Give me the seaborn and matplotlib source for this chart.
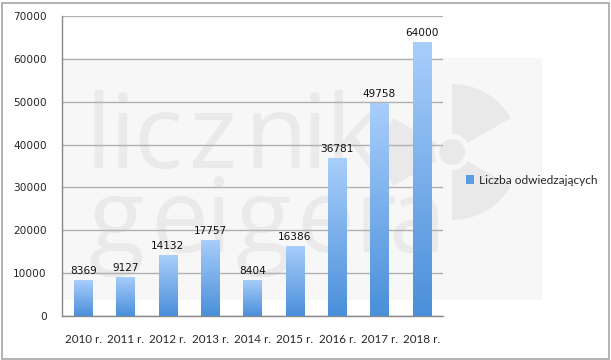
import numpy as np
import pandas as pd
import matplotlib
matplotlib.use("Agg")
import matplotlib.pyplot as plt
from matplotlib.patches import Rectangle, Wedge, Circle
import seaborn as sns

years = ["2010 r.", "2011 r.", "2012 r.", "2013 r.", "2014 r.",
         "2015 r.", "2016 r.", "2017 r.", "2018 r."]
visitors = [8369, 9127, 14132, 17757, 8404, 16386, 36781, 49758, 64000]
yticks = [0, 10000, 20000, 30000, 40000, 50000, 60000, 70000]
series_name = "Liczba odwiedzających"

df = pd.DataFrame({"rok": years, "wartosc": visitors})

sns.set_style("white")
plt.rcParams["font.family"] = ["DejaVu Sans"]

W, H = 611, 360
fig = plt.figure(figsize=(W / 100, H / 100), dpi=100)

# background watermark (light panel, trefoil, text) drawn in pixel coords
def px(x, y):
    return x / W, 1 - y / H

bg = Rectangle(px(63, 300), (542 - 63) / W, (300 - 58) / H,
               transform=fig.transFigure, facecolor="#f7f7f8",
               edgecolor="none", zorder=-2)
fig.patches.append(bg)

wm = fig.add_axes([0, 0, 1, 1], zorder=-1)
wm.set_xlim(0, W)
wm.set_ylim(H, 0)
wm.axis("off")
cx, cy = 452, 152
for a in [(30, 90), (150, 210), (270, 330)]:
    wm.add_patch(Wedge((cx, cy), 68, a[0], a[1], width=50,
                       facecolor="#e9e9ea", edgecolor="none"))
wm.add_patch(Circle((cx, cy), 13, facecolor="#e9e9ea", edgecolor="none"))

# watermark letters, spaced out like the original logo
wm_lines = [("licznik", [98, 123, 158, 213, 276, 315, 352], 168),
            ("geigera", [116, 179, 219, 263, 325, 375, 417], 252)]
for word, xs, base in wm_lines:
    for ch, x in zip(word, xs):
        wm.text(x, base, ch, fontsize=74, color="#eaeaea",
                family="Open Sans", ha="center", va="baseline")

# outer frame
fig.patches.append(Rectangle((1.5 / W, 1.5 / H), (W - 4) / W, (H - 4) / H,
                             transform=fig.transFigure, facecolor="none",
                             edgecolor="#a6a6a6", linewidth=1.2, zorder=5))

ax = fig.add_axes([62 / W, 1 - 316 / H, (443 - 62) / W, 300 / H], zorder=1)
ax.set_facecolor("none")

sns.barplot(data=df, x="rok", y="wartosc", ax=ax, width=0.43,
            color="#5b9bdf", zorder=3)

# vertical gradient inside each bar
grad = np.linspace(0, 1, 256).reshape(-1, 1)
cmap = matplotlib.colors.LinearSegmentedColormap.from_list(
    "bar", ["#4a8fda", "#a9cefb"])
for p in ax.patches:
    x0, y0 = p.get_x(), p.get_y()
    w, h = p.get_width(), p.get_height()
    im = ax.imshow(grad, cmap=cmap, origin="lower", aspect="auto",
                   extent=[x0, x0 + w, y0, y0 + h], zorder=3)
    im.set_clip_path(p)
    p.set_facecolor("none")
    p.set_edgecolor("none")

for i, v in enumerate(visitors):
    ax.annotate(str(v), (i, v), xytext=(0, 3), textcoords="offset points",
                ha="center", va="bottom", fontsize=7.6, color="#111111")

ax.set_xlim(-0.5, len(years) - 0.5)
ax.set_ylim(0, 70000)
ax.set_yticks(yticks)
ax.set_yticklabels([str(t) for t in yticks], fontsize=7.6)
ax.yaxis.grid(True, color="#b0b0b0", linewidth=1)
ax.set_axisbelow(True)
ax.set_xlabel("")
ax.set_ylabel("")

ax.set_xticks(range(len(years)))
ax.set_xticklabels(years, family="Lato", fontsize=8.4)
ax.set_xticks(np.arange(-0.5, len(years)), minor=True)
ax.tick_params(axis="x", which="major", length=0, pad=13)
ax.tick_params(axis="x", which="minor", length=4, color="#888888", width=1)
ax.tick_params(axis="y", length=5, color="#888888", width=1, pad=6)

for s in ["top", "right"]:
    ax.spines[s].set_visible(False)
for s in ["left", "bottom"]:
    ax.spines[s].set_color("#888888")
    ax.spines[s].set_linewidth(1)

handle = Rectangle((0, 0), 1, 1, facecolor="#5b9bdf", edgecolor="none")
fig.legend([handle], [series_name], loc="center left",
           bbox_to_anchor=px(455, 180), frameon=False,
           prop={"family": "Lato", "size": 8.6},
           handlelength=0.7, handleheight=0.7, handletextpad=0.4)

fig.savefig("out.png", dpi=100)
